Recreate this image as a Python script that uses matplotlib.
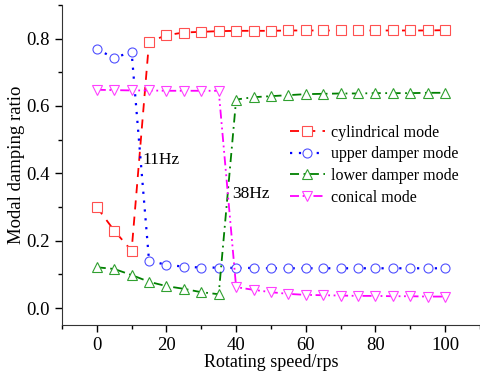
import matplotlib
matplotlib.use("Agg")
import matplotlib.pyplot as plt
from matplotlib.ticker import MultipleLocator, FormatStrFormatter

speed = [0, 5, 10, 15, 20, 25, 30, 35, 40, 45, 50, 55, 60, 65, 70, 75, 80, 85, 90, 95, 100]
cylindrical = [0.30, 0.23, 0.17, 0.79, 0.81, 0.818, 0.82, 0.822, 0.823, 0.823, 0.823, 0.824, 0.824,
               0.824, 0.824, 0.824, 0.824, 0.824, 0.824, 0.824, 0.825]
upper_damper = [0.768, 0.743, 0.76, 0.141, 0.128, 0.123, 0.12, 0.12, 0.119, 0.119, 0.118, 0.118, 0.118,
                0.118, 0.118, 0.118, 0.118, 0.118, 0.118, 0.118, 0.118]
lower_damper = [0.121, 0.116, 0.098, 0.078, 0.065, 0.057, 0.047, 0.041, 0.619, 0.626, 0.629, 0.632, 0.635,
                0.636, 0.637, 0.637, 0.638, 0.638, 0.638, 0.639, 0.639]
conical = [0.648, 0.647, 0.646, 0.646, 0.645, 0.645, 0.645, 0.645, 0.062, 0.054, 0.047, 0.042, 0.039,
           0.038, 0.037, 0.036, 0.036, 0.035, 0.035, 0.034, 0.034]

plt.rcParams['font.family'] = ['Liberation Serif', 'DejaVu Serif']

fig = plt.figure(figsize=(4.8, 3.76), dpi=100)
ax = fig.add_axes([0.129, 0.136, 0.871, 0.851])

ms = 6.5
ax.plot(speed, cylindrical, color='#ff0000', ls=(0, (5, 4)), lw=1.3, marker='s', ms=ms,
        mfc='white', mec='#ff5050', mew=0.8, label='cylindrical mode')
ax.plot(speed, upper_damper, color='#0000ff', ls=(0, (1, 3)), lw=1.6, marker='o', ms=ms,
        mfc='white', mec='#5050ff', mew=0.8, label='upper damper mode')
ax.plot(speed, lower_damper, color='#008000', ls=(0, (5, 2.5, 1, 2.5)), lw=1.3, marker='^', ms=ms,
        mfc='white', mec='#30a030', mew=0.8, label='lower damper mode')
ax.plot(speed, conical, color='#ff00ff', ls=(0, (5, 2, 1, 2, 1, 2)), lw=1.3, marker='v', ms=ms,
        mfc='white', mec='#ff40ff', mew=0.8, label='conical mode')

ax.text(13.0, 0.44, '11Hz', fontsize=12.5, va='center', ha='left')
ax.text(39.0, 0.34, '38Hz', fontsize=12.5, va='center', ha='left')

ax.set_xlim(-10, 110)
ax.set_ylim(-0.05, 0.9)
ax.xaxis.set_major_locator(MultipleLocator(20))
ax.xaxis.set_minor_locator(MultipleLocator(10))
ax.yaxis.set_major_locator(MultipleLocator(0.2))
ax.yaxis.set_minor_locator(MultipleLocator(0.1))
ax.yaxis.set_major_formatter(FormatStrFormatter('%.1f'))
ax.tick_params(which='major', direction='out', length=5, width=1, labelsize=13.5)
ax.tick_params(which='minor', direction='out', length=3, width=1)
ax.spines['top'].set_visible(False)
ax.spines['right'].set_visible(False)
ax.spines['left'].set_color('#333333')
ax.spines['bottom'].set_color('#333333')

ax.set_xlabel('Rotating speed/rps', fontsize=13, labelpad=0)
ax.set_ylabel('Modal damping ratio', fontsize=13.5, labelpad=1)

ax.legend(loc='upper left', bbox_to_anchor=(0.53, 0.645), frameon=False, fontsize=11.5,
          handlelength=2.2, labelspacing=0.35, borderaxespad=0, handletextpad=0.4)

fig.savefig('out.png', dpi=100)
